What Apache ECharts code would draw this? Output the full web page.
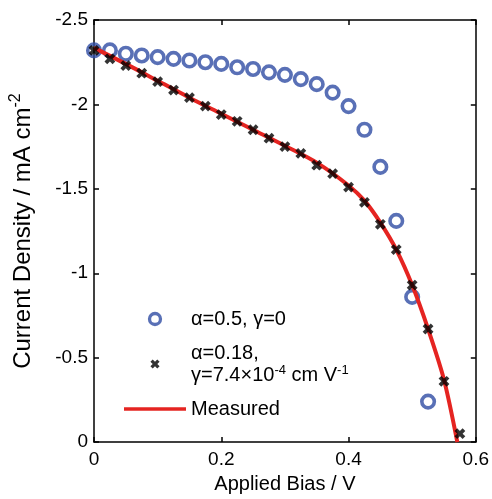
<!DOCTYPE html>
<html><head><meta charset="utf-8">
<script src="https://cdn.jsdelivr.net/npm/echarts@6/dist/echarts.min.js"></script>
<style>html,body{margin:0;padding:0;background:#fff}#c{width:492px;height:499px}</style>
</head><body><div id="c"></div>
<script>
// ---- data ----
const circleBias = [0, 0.025, 0.05, 0.075, 0.1, 0.125, 0.15, 0.175, 0.2, 0.225, 0.25, 0.275, 0.3, 0.325, 0.35, 0.375, 0.4, 0.425, 0.45, 0.475, 0.5, 0.525];
const circleJ = [-2.32, -2.32, -2.30, -2.29, -2.28, -2.27, -2.26, -2.25, -2.24, -2.22, -2.21, -2.19, -2.175, -2.15, -2.12, -2.07, -1.99, -1.85, -1.63, -1.31, -0.86, -0.24];
const crossBias = [0, 0.025, 0.05, 0.075, 0.1, 0.125, 0.15, 0.175, 0.2, 0.225, 0.25, 0.275, 0.3, 0.325, 0.35, 0.375, 0.4, 0.425, 0.45, 0.475, 0.5, 0.525, 0.55, 0.575];
const crossJ = [-2.32, -2.27, -2.23, -2.185, -2.135, -2.085, -2.04, -1.99, -1.94, -1.90, -1.85, -1.80, -1.75, -1.71, -1.64, -1.59, -1.51, -1.42, -1.29, -1.14, -0.93, -0.67, -0.36, -0.05];
const measuredBias = [0, 0.05, 0.1, 0.15, 0.2, 0.25, 0.3, 0.35, 0.4, 0.425, 0.45, 0.475, 0.5, 0.525, 0.55, 0.571];
const measuredJ = [-2.335, -2.24, -2.14, -2.04, -1.945, -1.85, -1.755, -1.655, -1.52, -1.43, -1.30, -1.14, -0.93, -0.67, -0.37, 0];
const seriesNames = ['alpha05', 'alpha018', 'Measured'];
const legendLabels = {
  alpha05: 'α=0.5, γ=0',
  alpha018: 'α=0.18,\nγ=7.4×10{sup|-4} cm V{sup|-1}',
  Measured: 'Measured'
};
const xTitle = 'Applied Bias / V';
const yTitle = 'Current Density / mA cm{sup|-2}';

const FONT = 'Liberation Sans, Arial, sans-serif';
const crossPath = 'path://M-1,-1M11,11M0,2.5L2.5,0L5,2.5L7.5,0L10,2.5L7.5,5L10,7.5L7.5,10L5,7.5L2.5,10L0,7.5L2.5,5Z';
const linePath = 'path://M0,0L62,0L62,3.5L0,3.5Z';
const blue = '#2f4ca4', red = '#e52421';

const axisCommon = {
  axisLine: { onZero: false, lineStyle: { color: '#000', width: 1.5 } },
  axisTick: { inside: true, length: 5, lineStyle: { color: '#000', width: 1.5 } },
  splitLine: { show: false }
};

const chart = echarts.init(document.getElementById('c'), null, { renderer: 'canvas' });
chart.setOption({
  animation: false,
  backgroundColor: '#fff',
  grid: { left: 88, right: 14, top: 20, bottom: 54 },
  xAxis: [
    Object.assign({
      type: 'value', min: 0, max: 0.6, interval: 0.2, position: 'bottom',
      axisLabel: { color: '#000', fontSize: 19, fontFamily: FONT, margin: 8 },
      name: xTitle, nameLocation: 'middle', nameGap: 30,
      nameTextStyle: { color: '#000', fontSize: 20, fontFamily: FONT }
    }, axisCommon),
    Object.assign({
      type: 'value', min: 0, max: 0.6, interval: 0.2, position: 'top',
      axisLabel: { show: false }
    }, axisCommon)
  ],
  yAxis: [
    Object.assign({
      type: 'value', min: -2.5, max: 0, interval: 0.5, inverse: true, position: 'left',
      axisLabel: { color: '#000', fontSize: 19, fontFamily: FONT, margin: 6 },
      name: yTitle, nameLocation: 'middle', nameGap: 56,
      nameTextStyle: {
        color: '#000', fontSize: 24, fontFamily: FONT, lineHeight: 30,
        rich: { sup: { fontSize: 16, lineHeight: 16, verticalAlign: 'top', fontFamily: FONT, color: '#000' } }
      }
    }, axisCommon),
    Object.assign({
      type: 'value', min: -2.5, max: 0, interval: 0.5, inverse: true, position: 'right',
      axisLabel: { show: false }
    }, axisCommon)
  ],
  legend: {
    orient: 'vertical', left: 124, top: 308, padding: 0,
    itemWidth: 62, itemHeight: 11, itemGap: 12,
    data: [
      { name: seriesNames[0], itemStyle: { color: 'rgba(0,0,0,0)', borderWidth: 3.3, borderColor: blue } },
      { name: seriesNames[1], itemStyle: { color: '#000', borderWidth: 0 } },
      { name: seriesNames[2], icon: linePath, itemStyle: { color: red, borderWidth: 0 } }
    ],
    formatter: n => legendLabels[n],
    textStyle: {
      color: '#000', fontSize: 20, fontFamily: FONT, lineHeight: 22,
      rich: { sup: { fontSize: 13, lineHeight: 13, verticalAlign: 'top', fontFamily: FONT, color: '#000' } }
    }
  },
  series: [
    {
      type: 'scatter', name: seriesNames[0], z: 2,
      data: circleBias.map((x, i) => [x, circleJ[i]]),
      symbol: 'circle', symbolSize: 12.5,
      itemStyle: { color: 'rgba(0,0,0,0)', borderColor: blue, borderWidth: 3.6 }
    },
    {
      type: 'line', name: seriesNames[2], z: 3,
      data: measuredBias.map((x, i) => [x, measuredJ[i]]),
      symbol: 'none', showSymbol: false, smooth: 0.3,
      lineStyle: { color: red, width: 4 }, itemStyle: { color: red }
    },
    {
      type: 'scatter', name: seriesNames[1], z: 4,
      data: crossBias.map((x, i) => [x, crossJ[i]]),
      symbol: crossPath, symbolSize: 13,
      itemStyle: { color: '#000' }
    }
  ]
});
</script></body></html>
